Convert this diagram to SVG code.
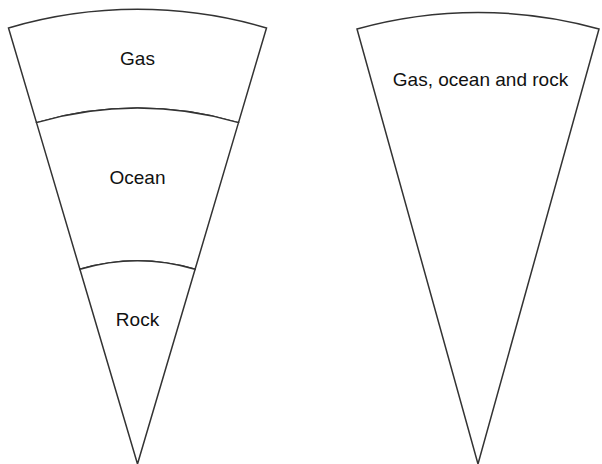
<svg xmlns="http://www.w3.org/2000/svg" width="602" height="464" viewBox="0 0 602 464">
<style>
.region{fill:#ffffff;stroke:#333333;stroke-width:1.5;stroke-linejoin:miter}
.lbl{font-family:"Liberation Sans","DejaVu Sans",sans-serif;font-size:19px;fill:#111111;text-anchor:middle}
</style>
<rect width="602" height="464" fill="#ffffff"/>
<g id="gas">
<path class="region" d="M 8.5 28 A 454.7 454.7 0 0 1 266.5 28 L 238.5 122.6 A 356 356 0 0 0 36.5 122.6 Z"/>
<text class="lbl" x="137.5" y="65">Gas</text>
</g>
<g id="ocean">
<path class="region" d="M 36.5 122.6 A 356 356 0 0 1 238.5 122.6 L 195.1 269.3 A 203 203 0 0 0 79.9 269.3 Z"/>
<text class="lbl" x="137.5" y="183.5">Ocean</text>
</g>
<g id="rock">
<path class="region" d="M 79.9 269.3 A 203 203 0 0 1 195.1 269.3 L 137.5 464 Z"/>
<text class="lbl" x="137.5" y="326">Rock</text>
</g>
<g id="mixed">
<path class="region" d="M 357 29 A 451.5 451.5 0 0 1 599 29 L 478 464 Z"/>
<text class="lbl" x="480.5" y="86">Gas, ocean and rock</text>
</g>
<g id="connectors"></g>
</svg>
